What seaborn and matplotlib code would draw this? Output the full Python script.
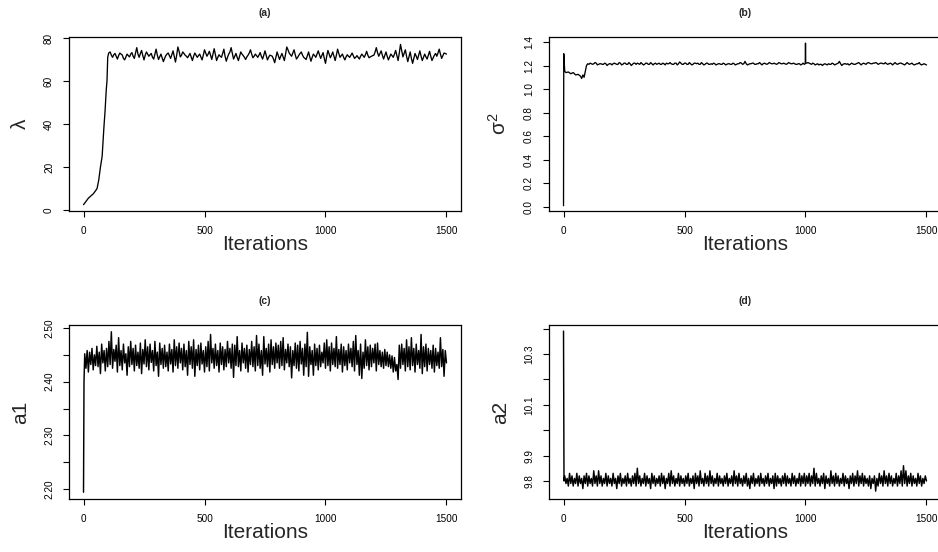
import matplotlib
matplotlib.use("Agg")
import matplotlib.pyplot as plt
import seaborn as sns
import pandas as pd

# ---------------- data ----------------
# (a) lambda
lam_burn_iter = [0, 10, 20, 30, 40, 50, 56, 63, 70, 77, 84, 89, 94, 97, 100, 104]
lam_burn_val = [2.5, 4.0, 5.5, 6.5, 7.5, 9.0, 10.0, 14.0, 20.0, 25.0, 38.0, 46.0, 56.0, 60.0, 71.0, 73.0]
# samples at iterations 110, 120, ..., 1500
lam_val = [
    73.5, 71.0, 72.8, 70.2, 73.0, 72.1, 69.8, 72.5, 71.2, 73.2,
    70.5, 75.5, 71.0, 74.2, 69.8, 73.5, 71.5, 72.8, 70.2, 74.8,
    70.0, 72.5, 69.0, 71.8, 73.0, 70.5, 74.0, 68.8, 75.8, 71.2,
    73.5, 72.0, 70.8, 72.8, 69.5, 73.0, 71.0, 72.5, 69.8, 74.5,
    71.5, 73.8, 70.0, 75.0, 69.5, 72.2, 71.0, 74.8, 69.2, 72.5,
    75.5, 70.2, 72.8, 69.5, 73.5, 71.8, 70.0, 72.0, 74.5, 70.8,
    72.5, 71.0, 73.2, 70.2, 74.0, 69.8, 72.0, 71.5, 68.5, 73.5,
    70.0, 72.8, 69.5, 75.8, 73.0, 71.5, 74.5, 70.2, 72.0, 73.5,
    71.0, 70.0, 73.5, 69.2, 72.5, 71.0, 74.0, 70.5, 73.2, 68.2,
    74.2, 70.8, 73.5, 69.5, 74.8, 71.0, 72.5, 69.8, 72.2, 71.0,
    73.0, 70.5, 71.8, 70.2, 72.5, 71.0, 73.8, 70.8, 71.5, 72.0,
    75.5, 71.5, 74.0, 70.2, 73.5, 69.8, 72.5, 71.0, 74.2, 69.5,
    77.0, 71.2, 74.5, 69.0, 73.5, 68.2, 72.8, 70.0, 74.0, 69.5,
    72.5, 70.2, 73.8, 69.5, 72.0, 71.5, 74.8, 70.5, 73.0, 72.5,
]
# samples at iterations 115, 125, ..., 1495
lam_val_half = [
    72.0, 72.2, 71.5, 71.8, 72.5, 70.5, 71.2, 71.8, 72.5, 71.5,
    73.0, 72.5, 72.8, 71.8, 72.0, 72.5, 72.2, 71.0, 72.5, 72.0,
    71.2, 70.8, 70.5, 72.5, 71.8, 72.2, 71.5, 72.0, 73.8, 72.0,
    72.8, 71.5, 71.8, 71.2, 71.5, 72.0, 71.8, 71.2, 72.0, 73.0,
    72.5, 72.0, 72.5, 72.2, 71.0, 71.5, 72.8, 71.5, 71.0, 73.5,
    72.8, 71.5, 71.0, 71.5, 72.5, 71.0, 71.2, 73.0, 72.5, 71.5,
    71.8, 72.0, 71.5, 72.0, 71.8, 71.0, 71.8, 70.2, 71.0, 71.8,
    71.5, 71.2, 72.5, 74.5, 72.2, 73.0, 72.2, 71.0, 72.8, 72.0,
    70.5, 71.8, 71.2, 71.0, 71.8, 72.5, 72.2, 71.8, 70.5, 71.5,
    72.5, 72.0, 71.5, 72.0, 72.8, 71.8, 71.0, 71.2, 71.5, 72.0,
    71.8, 71.0, 71.0, 71.5, 71.8, 72.2, 72.0, 71.2, 71.8, 73.5,
    73.2, 72.8, 72.0, 71.8, 71.5, 71.2, 71.8, 72.5, 71.8, 73.0,
    74.0, 72.8, 71.5, 71.2, 70.5, 70.5, 71.5, 72.0, 71.5, 71.0,
    71.2, 72.0, 71.5, 70.8, 72.8, 73.0, 72.5, 71.8, 72.8,
]

# (b) sigma^2
sig_burn_iter = [0, 1, 5, 10, 20, 30, 40, 50, 60, 70, 75, 80, 85, 90, 95, 100]
sig_burn_val = [0.01, 1.30, 1.15, 1.14, 1.145, 1.13, 1.14, 1.12, 1.125, 1.11, 1.09, 1.12, 1.10, 1.15, 1.20, 1.215]
# iterations 110 ... 990 step 10
sig_val_pre = [
    1.22, 1.21, 1.225, 1.205, 1.215, 1.21, 1.22, 1.20, 1.215, 1.205,
    1.22, 1.21, 1.225, 1.205, 1.22, 1.21, 1.225, 1.20, 1.22, 1.21,
    1.215, 1.225, 1.205, 1.22, 1.21, 1.225, 1.205, 1.22, 1.215, 1.21,
    1.22, 1.205, 1.215, 1.225, 1.21, 1.22, 1.205, 1.23, 1.21, 1.22,
    1.21, 1.225, 1.205, 1.22, 1.215, 1.21, 1.225, 1.205, 1.22, 1.21,
    1.215, 1.22, 1.205, 1.215, 1.21, 1.22, 1.205, 1.215, 1.21, 1.22,
    1.205, 1.215, 1.225, 1.21, 1.235, 1.205, 1.215, 1.22, 1.21, 1.215,
    1.225, 1.205, 1.22, 1.21, 1.225, 1.215, 1.22, 1.21, 1.225, 1.215,
    1.22, 1.21, 1.225, 1.215, 1.22, 1.21, 1.215, 1.205, 1.22,
]
sig_spike_iter = [999, 1000, 1001]
sig_spike_val = [1.215, 1.39, 1.22]
# iterations 1010 ... 1500 step 10
sig_val_post = [
    1.225, 1.215, 1.22, 1.205, 1.215, 1.21, 1.20, 1.215, 1.205, 1.21,
    1.22, 1.205, 1.215, 1.235, 1.20, 1.215, 1.21, 1.205, 1.22, 1.21,
    1.215, 1.225, 1.205, 1.22, 1.21, 1.225, 1.215, 1.22, 1.225, 1.21,
    1.22, 1.215, 1.225, 1.21, 1.22, 1.205, 1.225, 1.21, 1.22, 1.215,
    1.205, 1.225, 1.21, 1.22, 1.205, 1.215, 1.225, 1.205, 1.215, 1.205,
]
# iterations 105 ... 995 and 1005 ... 1495 step 10
sig_val_half = [
    1.21, 1.215, 1.215, 1.22, 1.21, 1.215, 1.21, 1.215, 1.21, 1.215,
    1.215, 1.215, 1.21, 1.22, 1.21, 1.22, 1.21, 1.215, 1.21, 1.22,
    1.22, 1.21, 1.215, 1.21, 1.22, 1.21, 1.215, 1.215, 1.21, 1.22,
    1.21, 1.215, 1.22, 1.215, 1.215, 1.21, 1.22, 1.215, 1.22, 1.21,
    1.22, 1.21, 1.215, 1.21, 1.22, 1.22, 1.21, 1.215, 1.21, 1.22,
    1.21, 1.21, 1.215, 1.21, 1.215, 1.21, 1.215, 1.21, 1.215, 1.21,
    1.215, 1.21, 1.215, 1.22, 1.215, 1.215, 1.21, 1.215, 1.22, 1.21,
    1.215, 1.215, 1.215, 1.215, 1.215, 1.22, 1.215, 1.215, 1.215, 1.22,
    1.215, 1.215, 1.215, 1.22, 1.215, 1.215, 1.21, 1.215, 1.21, 1.21,
    1.22, 1.22, 1.21, 1.215, 1.21, 1.205, 1.21, 1.21, 1.21, 1.215,
    1.21, 1.215, 1.21, 1.22, 1.215, 1.21, 1.215, 1.215, 1.21, 1.215,
    1.21, 1.22, 1.215, 1.215, 1.215, 1.22, 1.22, 1.215, 1.22, 1.22,
    1.215, 1.22, 1.215, 1.215, 1.215, 1.215, 1.215, 1.215, 1.215, 1.22,
    1.21, 1.215, 1.215, 1.215, 1.21, 1.21, 1.215, 1.21, 1.21, 1.21,
]

# (c) a1
a1_burn_iter = [0, 2]
a1_burn_val = [2.194, 2.40]
# iterations 5, 10, ..., 1500
a1_val = [
    2.452, 2.425, 2.458, 2.418, 2.455, 2.432, 2.462, 2.422, 2.450, 2.430,
    2.466, 2.428, 2.455, 2.415, 2.470, 2.435, 2.458, 2.420, 2.462, 2.428,
    2.475, 2.432, 2.493, 2.425, 2.460, 2.438, 2.468, 2.418, 2.482, 2.430,
    2.458, 2.422, 2.470, 2.435, 2.452, 2.412, 2.465, 2.428, 2.475, 2.432,
    2.462, 2.420, 2.468, 2.430, 2.455, 2.425, 2.472, 2.415, 2.460, 2.433,
    2.478, 2.428, 2.465, 2.422, 2.470, 2.436, 2.458, 2.420, 2.475, 2.430,
    2.455, 2.410, 2.472, 2.432, 2.462, 2.425, 2.468, 2.428, 2.455, 2.420,
    2.470, 2.433, 2.460, 2.418, 2.478, 2.430, 2.465, 2.425, 2.472, 2.435,
    2.462, 2.422, 2.470, 2.428, 2.458, 2.412, 2.475, 2.432, 2.465, 2.425,
    2.478, 2.410, 2.460, 2.430, 2.468, 2.422, 2.472, 2.433, 2.458, 2.418,
    2.465, 2.428, 2.475, 2.420, 2.488, 2.435, 2.462, 2.425, 2.470, 2.430,
    2.458, 2.418, 2.472, 2.432, 2.465, 2.422, 2.460, 2.428, 2.475, 2.435,
    2.462, 2.425, 2.470, 2.408, 2.468, 2.430, 2.484, 2.428, 2.458, 2.420,
    2.472, 2.435, 2.462, 2.425, 2.468, 2.418, 2.460, 2.432, 2.475, 2.428,
    2.465, 2.420, 2.486, 2.430, 2.470, 2.425, 2.458, 2.412, 2.484, 2.433,
    2.462, 2.428, 2.470, 2.418, 2.478, 2.432, 2.465, 2.425, 2.472, 2.435,
    2.468, 2.425, 2.475, 2.430, 2.482, 2.422, 2.460, 2.435, 2.470, 2.428,
    2.465, 2.407, 2.458, 2.430, 2.472, 2.425, 2.468, 2.420, 2.475, 2.433,
    2.462, 2.412, 2.470, 2.428, 2.492, 2.410, 2.465, 2.432, 2.458, 2.412,
    2.470, 2.430, 2.462, 2.422, 2.468, 2.428, 2.455, 2.435, 2.472, 2.425,
    2.478, 2.430, 2.465, 2.420, 2.472, 2.432, 2.462, 2.428, 2.484, 2.425,
    2.460, 2.432, 2.470, 2.418, 2.465, 2.430, 2.458, 2.422, 2.470, 2.435,
    2.462, 2.428, 2.475, 2.420, 2.486, 2.432, 2.458, 2.412, 2.470, 2.406,
    2.455, 2.425, 2.478, 2.430, 2.465, 2.422, 2.468, 2.428, 2.462, 2.435,
    2.470, 2.420, 2.472, 2.432, 2.458, 2.428, 2.455, 2.425, 2.460, 2.430,
    2.455, 2.428, 2.450, 2.425, 2.448, 2.418, 2.445, 2.420, 2.432, 2.404,
    2.468, 2.425, 2.470, 2.432, 2.462, 2.420, 2.478, 2.428, 2.465, 2.422,
    2.482, 2.430, 2.462, 2.418, 2.470, 2.432, 2.458, 2.425, 2.488, 2.415,
    2.465, 2.428, 2.470, 2.420, 2.462, 2.432, 2.458, 2.425, 2.468, 2.418,
    2.462, 2.430, 2.455, 2.425, 2.482, 2.428, 2.460, 2.410, 2.458, 2.435,
]

# (d) a2
a2_burn_iter = [0, 2]
a2_burn_val = [10.39, 9.80]
# iterations 5, 10, ..., 1500
a2_val = [
    9.82, 9.79, 9.81, 9.78, 9.83, 9.79, 9.82, 9.78, 9.81, 9.79,
    9.83, 9.78, 9.82, 9.79, 9.81, 9.77, 9.82, 9.79, 9.83, 9.78,
    9.82, 9.79, 9.81, 9.78, 9.84, 9.79, 9.82, 9.78, 9.84, 9.79,
    9.82, 9.78, 9.81, 9.79, 9.83, 9.78, 9.82, 9.79, 9.81, 9.78,
    9.83, 9.79, 9.81, 9.77, 9.82, 9.79, 9.83, 9.78, 9.81, 9.79,
    9.82, 9.78, 9.83, 9.79, 9.81, 9.78, 9.82, 9.79, 9.83, 9.78,
    9.85, 9.79, 9.82, 9.78, 9.81, 9.79, 9.83, 9.78, 9.82, 9.79,
    9.81, 9.77, 9.83, 9.79, 9.82, 9.78, 9.81, 9.79, 9.82, 9.78,
    9.83, 9.79, 9.82, 9.77, 9.81, 9.79, 9.83, 9.78, 9.84, 9.79,
    9.82, 9.78, 9.81, 9.79, 9.83, 9.78, 9.82, 9.79, 9.81, 9.78,
    9.82, 9.79, 9.83, 9.78, 9.81, 9.79, 9.82, 9.77, 9.83, 9.79,
    9.82, 9.78, 9.84, 9.79, 9.81, 9.78, 9.83, 9.79, 9.82, 9.78,
    9.84, 9.79, 9.82, 9.78, 9.81, 9.79, 9.83, 9.78, 9.82, 9.79,
    9.81, 9.78, 9.82, 9.79, 9.83, 9.78, 9.81, 9.79, 9.82, 9.78,
    9.84, 9.79, 9.82, 9.78, 9.83, 9.79, 9.81, 9.78, 9.82, 9.79,
    9.83, 9.78, 9.81, 9.77, 9.82, 9.79, 9.83, 9.78, 9.81, 9.79,
    9.82, 9.78, 9.83, 9.79, 9.81, 9.78, 9.82, 9.79, 9.83, 9.78,
    9.81, 9.79, 9.82, 9.77, 9.83, 9.78, 9.82, 9.79, 9.81, 9.78,
    9.82, 9.79, 9.83, 9.78, 9.82, 9.79, 9.81, 9.78, 9.83, 9.79,
    9.82, 9.78, 9.81, 9.79, 9.83, 9.78, 9.82, 9.79, 9.83, 9.78,
    9.82, 9.79, 9.83, 9.78, 9.82, 9.79, 9.85, 9.78, 9.83, 9.79,
    9.81, 9.78, 9.82, 9.79, 9.83, 9.77, 9.82, 9.79, 9.81, 9.78,
    9.84, 9.79, 9.82, 9.78, 9.83, 9.79, 9.82, 9.78, 9.81, 9.79,
    9.83, 9.78, 9.82, 9.79, 9.81, 9.77, 9.82, 9.79, 9.83, 9.78,
    9.82, 9.79, 9.84, 9.78, 9.82, 9.79, 9.83, 9.78, 9.82, 9.79,
    9.81, 9.78, 9.82, 9.77, 9.81, 9.79, 9.82, 9.76, 9.81, 9.78,
    9.83, 9.79, 9.82, 9.78, 9.84, 9.79, 9.82, 9.78, 9.83, 9.79,
    9.82, 9.78, 9.81, 9.79, 9.83, 9.78, 9.82, 9.79, 9.84, 9.78,
    9.86, 9.79, 9.84, 9.78, 9.82, 9.79, 9.83, 9.78, 9.82, 9.79,
    9.81, 9.78, 9.83, 9.79, 9.82, 9.78, 9.81, 9.79, 9.82, 9.80,
]

panel_titles = ["(a)", "(b)", "(c)", "(d)"]
y_labels = ["λ", r"$\mathregular{\sigma^2}$", "a1", "a2"]
x_label = "Iterations"
x_ticks = [0, 500, 1000, 1500]
a_yticks = [0, 20, 40, 60, 80]
a_yticklabels = ["0", "20", "40", "60", "80"]
b_yticks = [0.0, 0.2, 0.4, 0.6, 0.8, 1.0, 1.2, 1.4]
b_yticklabels = ["0.0", "0.2", "0.4", "0.6", "0.8", "1.0", "1.2", "1.4"]
c_yticks = [2.20, 2.25, 2.30, 2.35, 2.40, 2.45, 2.50]
c_yticklabels = ["2.20", "", "2.30", "", "2.40", "", "2.50"]
d_yticks = [9.8, 9.9, 10.0, 10.1, 10.2, 10.3, 10.4]
d_yticklabels = ["9.8", "9.9", "", "10.1", "", "10.3", ""]

# ---------------- build series (sampling grid of the traces) ----------------
def make_df(iters, vals):
    return pd.DataFrame({"iter": iters, "val": vals}).sort_values("iter").reset_index(drop=True)

lam_df = make_df(
    lam_burn_iter + list(range(110, 1501, 10)) + list(range(115, 1500, 10)),
    lam_burn_val + lam_val + lam_val_half,
)
sig_df = make_df(
    sig_burn_iter + list(range(110, 1000, 10)) + sig_spike_iter + list(range(1010, 1501, 10))
    + list(range(105, 1000, 10)) + list(range(1005, 1500, 10)),
    sig_burn_val + sig_val_pre + sig_spike_val + sig_val_post + sig_val_half,
)
a1_df = make_df(a1_burn_iter + list(range(5, 1501, 5)), a1_burn_val + a1_val)
a2_df = make_df(a2_burn_iter + list(range(5, 1501, 5)), a2_burn_val + a2_val)

# ---------------- style ----------------
sns.set_style("white")
plt.rcParams["font.family"] = ["Liberation Sans", "DejaVu Sans"]
plt.rcParams["mathtext.fontset"] = "custom"
plt.rcParams["mathtext.rm"] = "Liberation Sans"

W, H = 938, 552
fig = plt.figure(figsize=(W / 100, H / 100), dpi=100)

def px_axes(left, top, right, bottom):
    return fig.add_axes([left / W, 1 - bottom / H, (right - left) / W, (bottom - top) / H])

axes = [
    px_axes(69, 37, 461, 211),
    px_axes(549, 37, 941, 211),
    px_axes(69, 325, 461, 499),
    px_axes(549, 325, 941, 499),
]
dfs = [lam_df, sig_df, a1_df, a2_df]
ylims = [(-0.45, 80.45), (-0.035, 1.442), (2.1814, 2.5056), (9.729, 10.414)]
yticks = [a_yticks, b_yticks, c_yticks, d_yticks]
yticklabels = [a_yticklabels, b_yticklabels, c_yticklabels, d_yticklabels]
line_widths = [0.95, 0.95, 1.05, 1.05]

for ax, df, title, ylab, yl, yt, ytl, lw in zip(axes, dfs, panel_titles, y_labels, ylims,
                                                yticks, yticklabels, line_widths):
    sns.lineplot(data=df, x="iter", y="val", ax=ax, color="black", linewidth=lw,
                 estimator=None, sort=False)
    ax.set_xlim(-60, 1560)
    ax.set_ylim(*yl)
    ax.set_xticks(x_ticks)
    ax.set_xticklabels([str(t) for t in x_ticks])
    ax.set_yticks(yt)
    ax.set_yticklabels(ytl, rotation=90, va="center")
    for s in ax.spines.values():
        s.set_color("black")
        s.set_linewidth(0.9)
        s.set_visible(True)
    ax.tick_params(axis="both", direction="out", length=4.3, width=0.8, colors="black",
                   labelsize=7.2, pad=6.5, left=True, bottom=True)
    ax.set_title(title, fontsize=7.5, fontweight="bold", pad=15)
    ax.set_xlabel(x_label, fontsize=15, labelpad=-1)
    ax.set_ylabel(ylab, fontsize=15, labelpad=10)
    ax.grid(False)

fig.savefig("out.png", dpi=100)
